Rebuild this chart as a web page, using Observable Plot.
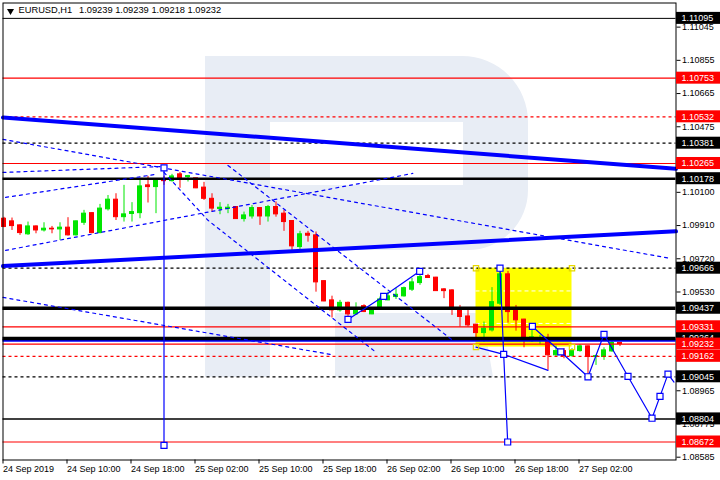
<!DOCTYPE html>
<html><head><meta charset="utf-8">
<script src="https://cdn.jsdelivr.net/npm/d3@7"></script>
<script src="https://cdn.jsdelivr.net/npm/@observablehq/plot@0.6"></script>
<style>
body{margin:0;background:#fff;}
#chart{width:720px;height:480px;}
</style>
</head><body><div id="chart"></div>
<script>
// ---- Candles (H1 bars from 24 Sep 2019 02:00) ----
const open  = [1.09949,1.09934,1.09911,1.09860,1.09905,1.09882,1.09892,1.09888,1.09898,1.09854,1.09926,1.09981,1.09867,1.10003,1.10058,1.09958,1.09976,1.09981,1.10140,1.10130,1.10168,1.10164,1.10203,1.10187,1.10180,1.10127,1.10063,1.10005,1.10005,1.10016,1.09947,1.09962,1.10010,1.09962,1.10016,1.09978,1.09936,1.09787,1.09863,1.09854,1.09592,1.09482,1.09425,1.09468,1.09402,1.09449,1.09402,1.09431,1.09482,1.09501,1.09505,1.09543,1.09581,1.09621,1.09612,1.09545,1.09539,1.09434,1.09390,1.09343,1.09295,1.09310,1.09463,1.09631,1.09421,1.09372,1.09249,1.09253,1.09259,1.09168,1.09192,1.09163,1.09192,1.09219,1.09158,1.09158,1.09190,1.09239];
const high  = [1.09957,1.09953,1.09914,1.09930,1.09908,1.09926,1.09905,1.09926,1.09955,1.09936,1.09997,1.09984,1.10031,1.10082,1.10092,1.10140,1.10041,1.10178,1.10191,1.10178,1.10191,1.10203,1.10214,1.10197,1.10180,1.10157,1.10092,1.10041,1.10031,1.10018,1.09987,1.10025,1.10012,1.10025,1.10045,1.09997,1.09938,1.09877,1.09877,1.09873,1.09594,1.09506,1.09482,1.09472,1.09468,1.09457,1.09436,1.09501,1.09529,1.09549,1.09558,1.09608,1.09654,1.09631,1.09614,1.09549,1.09543,1.09453,1.09425,1.09345,1.09358,1.09555,1.09666,1.09648,1.09453,1.09374,1.09327,1.09282,1.09288,1.09221,1.09206,1.09206,1.09229,1.09221,1.09168,1.09211,1.09253,1.09239];
const low   = [1.09898,1.09882,1.09854,1.09854,1.09863,1.09873,1.09863,1.09825,1.09850,1.09850,1.09911,1.09863,1.09863,1.09993,1.09939,1.09930,1.09930,1.09949,1.10039,1.09978,1.10140,1.10159,1.10123,1.10159,1.10121,1.10054,1.09987,1.09972,1.09978,1.09945,1.09930,1.09947,1.09911,1.09930,1.09958,1.09877,1.09768,1.09764,1.09815,1.09529,1.09474,1.09381,1.09415,1.09368,1.09396,1.09412,1.09400,1.09425,1.09480,1.09487,1.09501,1.09533,1.09568,1.09608,1.09533,1.09492,1.09396,1.09329,1.09329,1.09257,1.09243,1.09301,1.09453,1.09352,1.09306,1.09211,1.09242,1.09229,1.09082,1.09158,1.09148,1.09158,1.09186,1.09045,1.09110,1.09139,1.09186,1.09218];
const close = [1.09902,1.09907,1.09867,1.09905,1.09882,1.09892,1.09888,1.09898,1.09854,1.09934,1.09978,1.09867,1.10007,1.10058,1.09958,1.09974,1.09987,1.10134,1.10130,1.10168,1.10164,1.10191,1.10182,1.10193,1.10123,1.10063,1.10007,1.10012,1.10012,1.09947,1.09968,1.10010,1.09962,1.10016,1.09974,1.09930,1.09791,1.09860,1.09852,1.09585,1.09476,1.09425,1.09468,1.09402,1.09434,1.09415,1.09434,1.09487,1.09505,1.09514,1.09552,1.09585,1.09615,1.09610,1.09535,1.09535,1.09444,1.09387,1.09339,1.09295,1.09320,1.09472,1.09631,1.09415,1.09368,1.09253,1.09270,1.09263,1.09168,1.09192,1.09163,1.09196,1.09219,1.09158,1.09163,1.09196,1.09238,1.09232];

// ---- Axis ticks ----
const xTickBars   = [0,8,16,24,32,40,48,56,64,72];
const xTickLabels = ["24 Sep 2019","24 Sep 10:00","24 Sep 18:00","25 Sep 02:00","25 Sep 10:00","25 Sep 18:00","26 Sep 02:00","26 Sep 10:00","26 Sep 18:00","27 Sep 02:00"];
const yTicks = [1.11045,1.10855,1.10665,1.10475,1.10100,1.09910,1.09720,1.09530,1.08965,1.08775,1.08585];

// ---- Horizontal levels ----
const blackThinLevels   = [1.11095, 1.08804];
const blackThickLevels  = [1.10178, 1.09437, 1.09264];
const blackDashedLevels = [1.10381, 1.09666, 1.09045];
const redSolidLevels    = [1.10753, 1.10265, 1.09331, 1.08672];
const redDashedLevels   = [1.10532, 1.09162];
const bidPrice          = 1.09232;
const blueFlatLevel     = 1.09253;

// ---- Thick blue trend lines (bar index, price) ----
const trendABars = [-0.125, 84], trendAPrices = [1.10528, 1.10235];
const trendBBars = [-0.125, 84], trendBPrices = [1.09678, 1.09877];

// ---- Dotted blue lines ----
const dot1Bars = [-0.125, 83.3],  dot1Prices = [1.10403, 1.09722];
const dot2Bars = [-0.125, 20],    dot2Prices = [1.10214, 1.10248];
const dot3Bars = [0.2, 19],       dot3Prices = [1.10071, 1.10203];
const dot4Bars = [0.2, 51.1],     dot4Prices = [1.09768, 1.10208];
const dot5Bars = [20, 25.5, 38.7, 46.5], dot5Prices = [1.10214, 1.09940, 1.09465, 1.09185];
const dot6Bars = [28, 56.1],      dot6Prices = [1.10254, 1.09253];
const dot7Bars = [-0.125, 40.8],  dot7Prices = [1.09499, 1.09173];

// ---- Thin blue wave lines with square markers ----
const wave1Bars = [43, 47.46, 51.96], wave1Prices = [1.09373, 1.09505, 1.09648];
const wave2Bars = [20, 20],           wave2Prices = [1.10240, 1.08653];
const wave3Bars = [62, 62.46, 62.96], wave3Prices = [1.09666, 1.09173, 1.08672];
const wave4Bars = [59, 62.46, 68],    wave4Prices = [1.09215, 1.09173, 1.09082];
const wave5Bars = [66.05, 69.6, 73, 75, 78, 81, 82, 83, 83.75];
const wave5Prices = [1.09333, 1.09187, 1.09045, 1.09288, 1.09047, 1.08808, 1.08933, 1.09060, 1.09015];

// ---- Yellow box ----
const boxBars = [59, 71], boxPrices = [1.09215, 1.09666];
const boxInnerLevels = [1.09536, 1.09350];

const title = "EURUSD,H1";
const titlePrices = "1.09239 1.09239 1.09218 1.09232";

// ---------- build ----------
const bars = open.map((o, i) => ({i, o, h: high[i], l: low[i], c: close[i], up: close[i] > open[i]}));
const pts = (k, b, p) => b.map((v, j) => ({k, b: v, p: p[j]}));
const dotted = [
  ...pts(1, dot1Bars, dot1Prices), ...pts(2, dot2Bars, dot2Prices), ...pts(3, dot3Bars, dot3Prices),
  ...pts(4, dot4Bars, dot4Prices), ...pts(5, dot5Bars, dot5Prices), ...pts(6, dot6Bars, dot6Prices),
  ...pts(7, dot7Bars, dot7Prices)
];
const waves = [
  ...pts(1, wave1Bars, wave1Prices), ...pts(2, wave2Bars, wave2Prices), ...pts(3, wave3Bars, wave3Prices),
  ...pts(4, wave4Bars, wave4Prices), ...pts(5, wave5Bars, wave5Prices)
];
const squares = [
  ...pts(1, wave1Bars, wave1Prices), ...pts(2, wave2Bars, wave2Prices), ...pts(3, wave3Bars, wave3Prices),
  ...pts(5, wave5Bars.slice(0, -1), wave5Prices.slice(0, -1))
];
const trends = [...pts("A", trendABars, trendAPrices), ...pts("B", trendBBars, trendBPrices)];
const boxCorners = [
  {b: boxBars[0], p: boxPrices[1]}, {b: boxBars[1], p: boxPrices[1]},
  {b: boxBars[0], p: boxPrices[0]}, {b: boxBars[1], p: boxPrices[0]}
];
const blackLabels = [...blackThinLevels, ...blackDashedLevels, ...blackThickLevels];
const redLabels = [...redSolidLevels, ...redDashedLevels, bidPrice];

const X_MIN = -0.125, X_MAX = 84;
const UP = "#00e600", DOWN = "#ff0000", BLUE = "#0000ff";

function watermark() {
  const ns = "http://www.w3.org/2000/svg";
  const g = document.createElementNS(ns, "g");
  const p = document.createElementNS(ns, "path");
  p.setAttribute("d",
    "M205,56H462A66,66 0 0 1 528,122V190A60,60 0 0 1 468,250H270V377H205Z" +
    "M270,122V185H463V122Z" +
    "M335,313H482L493,377H335Z");
  p.setAttribute("fill", "#e8edf5");
  p.setAttribute("fill-rule", "evenodd");
  g.appendChild(p);
  return g;
}

const thickW = [2.5, 3.5, 3.5];
const thinW = [1, 1.5];

const chart = Plot.plot({
  width: 720, height: 480,
  marginLeft: 2.5, marginRight: 44.5, marginTop: 2.5, marginBottom: 20.5,
  style: {fontFamily: "'Liberation Sans', Arial, sans-serif", fontSize: "9px", background: "#fff", color: "#000"},
  x: {domain: [X_MIN, X_MAX]},
  y: {domain: [1.08569, 1.11183]},
  marks: [
    watermark,
    // yellow box
    Plot.rect([0], {x1: () => boxBars[0], x2: () => boxBars[1], y1: () => boxPrices[0], y2: () => boxPrices[1], fill: "#ffff00"}),
    Plot.ruleY(boxInnerLevels, {x1: boxBars[0], x2: boxBars[1], stroke: "#fff", strokeDasharray: "4,3"}),
    // candles
    Plot.ruleX(bars, {x: "i", y1: "l", y2: "h", stroke: d => d.up ? UP : DOWN, strokeWidth: 1}),
    Plot.rect(bars, {x1: d => d.i - 0.25, x2: d => d.i + 0.25, y1: "o", y2: "c",
      fill: d => d.up ? UP : DOWN, stroke: d => d.up ? UP : DOWN, strokeWidth: 1}),
    // levels
    Plot.ruleY(redSolidLevels, {stroke: DOWN, strokeWidth: 1.2}),
    Plot.ruleY(redDashedLevels, {stroke: DOWN, strokeWidth: 1.2, strokeDasharray: "3,3"}),
    Plot.ruleY(blackDashedLevels, {stroke: "#000", strokeWidth: 1.2, strokeDasharray: "3,3"}),
    Plot.ruleY(blackThinLevels, {stroke: "#000", strokeWidth: (d, i) => thinW[i]}),
    Plot.ruleY([blueFlatLevel], {stroke: BLUE, strokeWidth: 2.5}),
    Plot.ruleY(blackThickLevels, {stroke: "#000", strokeWidth: (d, i) => thickW[i]}),
    Plot.ruleY([bidPrice], {stroke: DOWN, strokeWidth: 1.2}),
    // trend lines
    Plot.line(trends, {x: "b", y: "p", z: "k", stroke: BLUE, strokeWidth: 4}),
    Plot.line(dotted, {x: "b", y: "p", z: "k", stroke: BLUE, strokeWidth: 1.2, strokeDasharray: "3,4"}),
    Plot.line(waves, {x: "b", y: "p", z: "k", stroke: BLUE, strokeWidth: 1.2}),
    Plot.dot(squares, {x: "b", y: "p", symbol: "square", r: 3.4, stroke: BLUE, fill: "#fff", strokeWidth: 1.2}),
    Plot.dot(boxCorners, {x: "b", y: "p", symbol: "square", r: 3, stroke: "#e6d800", fill: "none", strokeWidth: 1.2}),
    // frame & axes
    Plot.frame({stroke: "#000", strokeWidth: 1}),
    Plot.axisY({anchor: "right", ticks: yTicks, tickFormat: d => d.toFixed(5), tickSize: 4, tickPadding: 2, fontSize: 9}),
    Plot.axisX({ticks: xTickBars, tickFormat: d => xTickLabels[xTickBars.indexOf(d)], tickSize: 4, tickPadding: 2,
      textAnchor: "start", dx: -1, fontSize: 9}),
    // price labels
    Plot.rect(blackLabels, {x1: X_MAX, x2: X_MAX, y1: d => d, y2: d => d, insetLeft: 0.5, insetRight: -45, insetTop: -6, insetBottom: -6, fill: "#000"}),
    Plot.text(blackLabels, {x: X_MAX, y: d => d, text: d => d.toFixed(5), dx: 5.5, textAnchor: "start", fill: "#fff", fontSize: 9}),
    Plot.rect(redLabels, {x1: X_MAX, x2: X_MAX, y1: d => d, y2: d => d, insetLeft: 0.5, insetRight: -45, insetTop: -6, insetBottom: -6, fill: DOWN}),
    Plot.text(redLabels, {x: X_MAX, y: d => d, text: d => d.toFixed(5), dx: 5.5, textAnchor: "start", fill: "#fff", fontSize: 9}),
    // title
    Plot.dot([0], {frameAnchor: "top-left", dx: 7.5, dy: 8, symbol: "triangle", rotate: 180, r: 2.6, fill: "#000", stroke: "none"}),
    Plot.text([title], {frameAnchor: "top-left", dx: 15.5, dy: 3, lineAnchor: "top", textAnchor: "start", fontSize: 9.3, fill: "#000"}),
    Plot.text([titlePrices], {frameAnchor: "top-left", dx: 76, dy: 3, lineAnchor: "top", textAnchor: "start", fontSize: 9.3, fill: "#000"})
  ]
});
document.getElementById("chart").appendChild(chart);
</script>
</body></html>
